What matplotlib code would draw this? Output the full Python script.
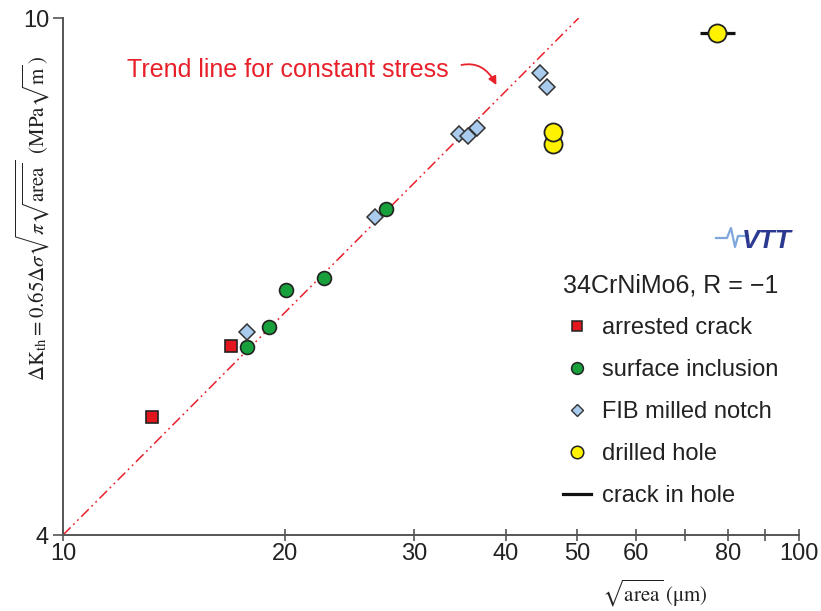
import matplotlib
matplotlib.use("Agg")
import matplotlib.pyplot as plt
from matplotlib.lines import Line2D
from matplotlib.ticker import FixedLocator, FixedFormatter, NullLocator

plt.rcParams['mathtext.fontset'] = 'stix'
SANS = ['Liberation Sans', 'DejaVu Sans']

# data (sqrt(area) in um, dK_th in MPa*sqrt(m))
arrested_x = [13.2, 16.9]
arrested_y = [4.93, 5.59]
incl_x = [17.8, 19.05, 20.1, 22.6, 27.5]
incl_y = [5.58, 5.78, 6.18, 6.31, 7.13]
fib_x = [17.8, 26.5, 34.5, 35.5, 36.5, 44.5, 45.5]
fib_y = [5.73, 7.03, 8.14, 8.11, 8.23, 9.07, 8.85]
hole_x = [46.3, 46.3, 77.4]
hole_y = [8.0, 8.17, 9.73]
crack_lo = [73.4]
crack_hi = [81.9]
crack_y = [9.73]
trend_x = [10, 50.2]
trend_y = [4, 10]

xticks = [10, 20, 30, 40, 50, 60, 70, 80, 90, 100]
xlabels = ['10', '20', '30', '40', '50', '60', '', '80', '', '100']
yticks = [4, 10]

red = '#e3161d'
green = '#17a03c'
blue = '#a9cbee'
yellow = '#fff200'
edge = '#222222'
axc = '#555555'

fig = plt.figure(figsize=(8.21, 6.11), dpi=100)
ax = fig.add_axes([63/821, 1-535/611, 736/821, 517/611])
ax.set_xscale('log')
ax.set_yscale('log')
ax.set_xlim(10, 100)
ax.set_ylim(4, 10)

ax.plot(trend_x, trend_y, color='#e8202a', lw=1.1,
        ls=(0, (7, 2.5, 1.2, 2.5, 1.2, 2.5)), zorder=1)

ax.plot(arrested_x, arrested_y, 's', ms=8.5, mfc=red, mec=edge, mew=1.2, zorder=3)
ax.plot(incl_x, incl_y, 'o', ms=10, mfc=green, mec=edge, mew=1.2, zorder=3)
ax.plot(fib_x, fib_y, 'D', ms=8, mfc=blue, mec='#333333', mew=1.1, zorder=3)
ax.hlines(crack_y, crack_lo, crack_hi, color='#111111', lw=2.3, zorder=3)
ax.plot(hole_x, hole_y, 'o', ms=13, mfc=yellow, mec=edge, mew=1.3, zorder=4)

# axes styling
for s in ['top', 'right']:
    ax.spines[s].set_visible(False)
for s in ['left', 'bottom']:
    ax.spines[s].set_color(axc)
    ax.spines[s].set_linewidth(1.4)
ax.xaxis.set_major_locator(FixedLocator(xticks))
ax.xaxis.set_major_formatter(FixedFormatter(xlabels))
ax.xaxis.set_minor_locator(NullLocator())
ax.yaxis.set_major_locator(FixedLocator(yticks))
ax.yaxis.set_major_formatter(FixedFormatter([str(v) for v in yticks]))
ax.yaxis.set_minor_locator(NullLocator())
ax.tick_params(axis='x', direction='inout', length=8, width=1.2, color=axc,
               labelsize=17, labelcolor='#222222', pad=2)
ax.tick_params(axis='y', direction='out', length=7, width=1.2, color=axc,
               labelsize=17, labelcolor='#222222', pad=3)
for lab in ax.get_xticklabels() + ax.get_yticklabels():
    lab.set_family(SANS)

# axis titles
fig.text(33/821, 1-218/611,
         r'$\Delta\mathrm{K}_{\mathrm{th}}=0.65\Delta\sigma\sqrt{\pi\sqrt{\mathrm{area}}}$'
         r'$\;\;(\mathrm{MPa}\sqrt{\mathrm{m}}\,)$',
         rotation=90, ha='center', va='center', fontsize=15, color='#222222')
fig.text(655/821, 1-593/611, r'$\sqrt{\mathrm{area}}\;(\mathrm{\mu m})$',
         ha='center', va='center', fontsize=15, color='#222222')

# trend line annotation
ax.annotate('Trend line for constant stress', xy=(38.8, 8.88), xytext=(12.2, 9.12),
            fontsize=18, color='#e8202a', family=SANS, va='center',
            arrowprops=dict(arrowstyle='-|>', color='#e8202a', lw=1.3,
                            mutation_scale=12, shrinkA=8, shrinkB=0,
                            relpos=(1, 0.5),
                            connectionstyle='arc3,rad=-0.5'))

# legend
handles = [
    Line2D([], [], ls='none', marker='s', ms=7.5, mfc=red, mec=edge, mew=1.1),
    Line2D([], [], ls='none', marker='o', ms=8.5, mfc=green, mec=edge, mew=1.1),
    Line2D([], [], ls='none', marker='D', ms=6.5, mfc=blue, mec='#333333', mew=1.0),
    Line2D([], [], ls='none', marker='o', ms=9, mfc=yellow, mec=edge, mew=1.1),
    Line2D([], [], color='#111111', lw=2.3),
]
labels = ['arrested crack', 'surface inclusion', 'FIB milled notch',
          'drilled hole', 'crack in hole']
leg = ax.legend(handles, labels, title='34CrNiMo6, R = \u22121', frameon=False,
                loc='upper left', bbox_to_anchor=(563/821, 1-273/611),
                bbox_transform=fig.transFigure, borderpad=0, borderaxespad=0,
                handlelength=1.2, handletextpad=0.45, labelspacing=0.85,
                prop={'family': SANS, 'size': 17},
                title_fontproperties={'family': SANS, 'size': 18},
                alignment='left')
for t in leg.get_texts():
    t.set_color('#222222')
leg.get_title().set_color('#222222')

# VTT logo
fig.text(767/821, 1-241/611, 'VTT', fontsize=19, fontweight='bold', style='italic',
         color='#2b3990', family=SANS, ha='center', va='center')
fig.add_artist(Line2D(
    [716/821, 727/821, 731/821, 735/821, 738/821, 748/821],
    [1-238/611, 1-238/611, 1-228/611, 1-247/611, 1-236/611, 1-236/611],
    color='#7fa7dc', lw=1.6, transform=fig.transFigure))

fig.savefig('out.png', dpi=100)
